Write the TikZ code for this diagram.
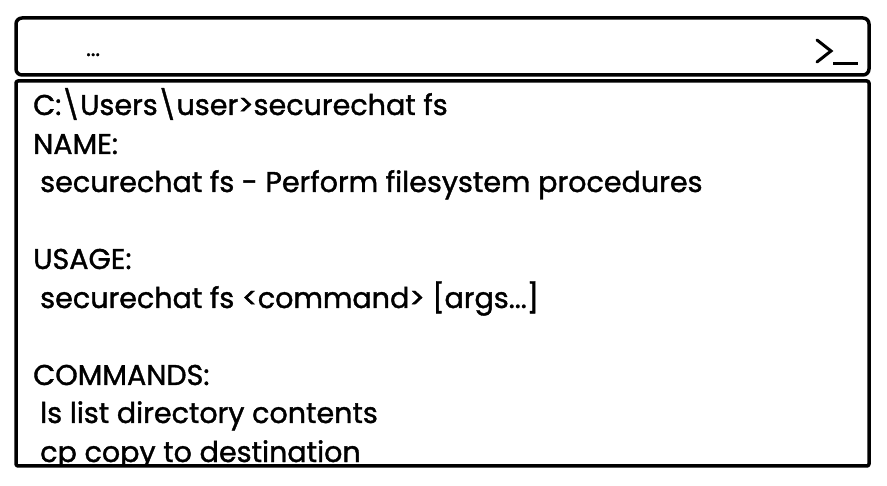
\documentclass[tikz,border=0pt]{standalone}
\usepackage{fontspec}
\setmainfont{Poppins}[FakeBold=1.3]
\begin{document}
\begin{tikzpicture}[x=1pt,y=-1pt,
  frame/.style={draw=black,line width=3.5pt,line join=round},
  term/.style={anchor=base west,inner sep=0pt,font=\fontsize{28.6}{32}\selectfont}]
\useasboundingbox (0,0) rectangle (887,486);
\fill[white] (0,0) rectangle (887,486);
% title bar
\draw[frame,rounded corners=6pt] (16,18) rectangle (869,75);
\node[anchor=base west,inner sep=0pt,font=\fontsize{22}{24}\selectfont] (dots) at (86,56) {...};
\draw[line width=3pt,line cap=round,line join=miter] (817,40) -- (831,51) -- (817,62);
\draw[line width=3pt] (833,64) -- (858,64);
% body
\begin{scope}
\clip (16,81) rectangle (869,466);
\node[term] (l1) at (33,115) {C:\textbackslash Users\textbackslash user>securechat fs};
\node[term] (l2) at (33,154) {NAME:};
\node[term] (l3) at (40,192) {securechat fs - Perform filesystem procedures};
\node[term] (l5) at (33,269) {USAGE:};
\node[term] (l6) at (40,308) {securechat fs <command> [args...]};
\node[term] (l8) at (33,385) {COMMANDS:};
\node[term] (l9) at (40,423) {ls list directory contents};
\node[term] (l10) at (40,462) {cp copy to destination};
\end{scope}
\draw[frame,rounded corners=2pt] (16,81) rectangle (869,466);
\end{tikzpicture}
\end{document}
